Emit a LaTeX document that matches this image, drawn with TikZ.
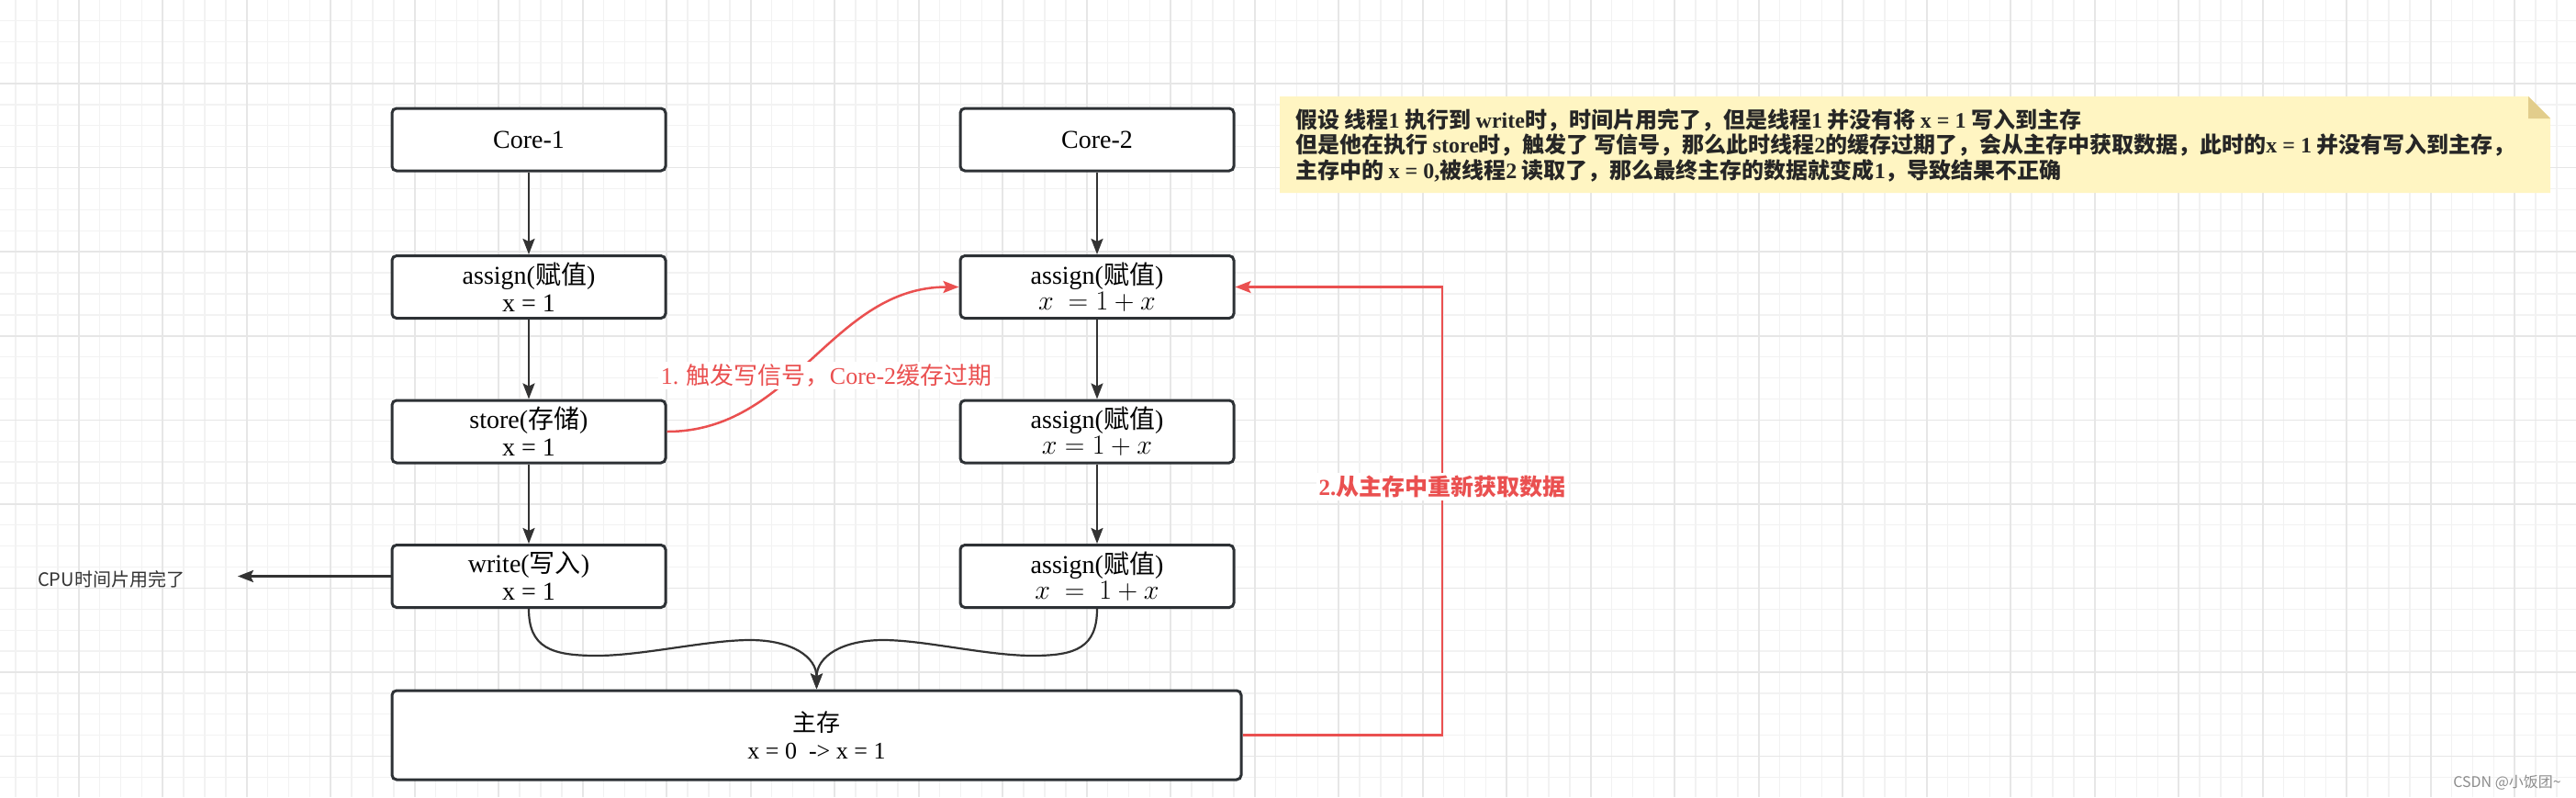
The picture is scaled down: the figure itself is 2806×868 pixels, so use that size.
\RequirePackage{fix-cm}
\documentclass[tikz,border=0pt]{standalone}
\usepackage{fontspec}
\setmainfont{Liberation Serif}
\usetikzlibrary{arrows.meta,calc}
\newfontfamily\cjk{Noto Sans CJK SC}
\newcommand\en[1]{{\rmfamily #1}}
\definecolor{boxline}{HTML}{2D3135}
\definecolor{arrline}{HTML}{333333}
\definecolor{redc}{HTML}{EA5050}
\definecolor{notefill}{HTML}{FFF5C2}
\definecolor{notefold}{HTML}{E2CD8C}
\definecolor{gridminor}{HTML}{F2F2F2}
\definecolor{gridmajor}{HTML}{E6E6E6}
\tikzset{
  box/.style={draw=boxline, line width=3pt, rounded corners=5pt, fill=white,
    minimum width=298pt, minimum height=68pt, align=center, inner sep=0pt,
    font=\fontsize{28}{30}\selectfont},
  arr/.style={draw=arrline, line width=2.2pt, -{Stealth[length=17pt,width=13pt,inset=3pt]}},
  redarr/.style={draw=redc, line width=2.5pt, -{Stealth[length=17pt,width=13pt,inset=3pt]}},
  redlabel/.style={fill=white, text=redc, inner sep=3pt, font=\fontsize{26}{30}\selectfont},
}
\begin{document}
\begin{tikzpicture}[x=1pt,y=-1pt]
\useasboundingbox (0,0) rectangle (2806,868);
\fill[white] (0,0) rectangle (2806,868);
\begin{scope}
\clip (0,0) rectangle (2806,868);
\foreach \i in {0,...,122}{\draw[gridminor, line width=1.3pt] ({17.1+\i*22.875},0) -- ({17.1+\i*22.875},868);}
\foreach \i in {0,...,38}{\draw[gridminor, line width=1.3pt] (0,{-0.5+\i*22.89}) -- (2806,{-0.5+\i*22.89});}
\foreach \i in {0,...,30}{\draw[gridmajor, line width=1.6pt] ({85.7+\i*91.5},0) -- ({85.7+\i*91.5},868);}
\foreach \i in {0,...,9}{\draw[gridmajor, line width=1.6pt] (0,{-0.5+\i*91.56}) -- (2806,{-0.5+\i*91.56});}
\end{scope}

% note
\fill[notefill] (1394,105) -- (2754,105) -- (2778,129) -- (2778,210) -- (1394,210) -- cycle;
\fill[notefold] (2754,105) -- (2754,129) -- (2778,129) -- cycle;
\node[anchor=north west, align=left, inner sep=0pt, text=black!85,
  font=\cjk\bfseries\fontsize{24}{27.5}\selectfont] (note) at (1411,118)
 {假设 线程\en{1} 执行到 \en{write}时，时间片用完了，但是线程\en{1} 并没有将 \en{x = 1} 写入到主存\\
  但是他在执行 \en{store}时，触发了 写信号，那么此时线程\en{2}的缓存过期了，会从主存中获取数据，此时的\en{x = 1} 并没有写入到主存，\\
  主存中的 \en{x = 0,}被线程\en{2} 读取了，那么最终主存的数据就变成\en{1}，导致结果不正确};

% boxes
\node[box] (c1) at (576,152) {Core-1};
\node[box] (a1) at (576,312.5) {assign({\cjk 赋值})\\x = 1};
\node[box] (s1) at (576,470) {store({\cjk 存储})\\x = 1};
\node[box] (w1) at (576,627.5) {write({\cjk 写入})\\x = 1};

\node[box] (c2) at (1195,152) {Core-2};
\node[box] (a2) at (1195,312.5) {assign({\cjk 赋值})\\[-2pt]\fontsize{30}{32}\selectfont $x\ =1+x$};
\node[box] (a3) at (1195,470) {assign({\cjk 赋值})\\[-2pt]\fontsize{30}{32}\selectfont $x=1+x$};
\node[box] (a4) at (1195,627.5) {assign({\cjk 赋值})\\[-2pt]\fontsize{30}{32}\selectfont $x\ =\ 1+x$};

\node[box, minimum width=925pt, minimum height=97pt, font=\fontsize{26}{30}\selectfont] (mem) at (889.5,800.5) {{\cjk 主存}\\x = 0\ \ -> x = 1};

% black arrows
\draw[arr] (c1) -- (a1);
\draw[arr] (a1) -- (s1);
\draw[arr] (s1) -- (w1);
\draw[arr] (c2) -- (a2);
\draw[arr] (a2) -- (a3);
\draw[arr] (a3) -- (a4);

\node[anchor=west, inner sep=0pt, text=black!80, font=\cjk\fontsize{20}{20}\selectfont] (cpu) at (41,631) {CPU时间片用完了};
\coordinate (cpuend) at (259,629);
\draw[arr] (w1.west) -- (w1.west -| cpuend);

\draw[arr] (w1.south) .. controls (576,705) and (600,714) .. (650,714)
  .. controls (700,714) and (770,697) .. (817,697)
  .. controls (862,697) and (889.5,715) .. (mem.north);
\draw[arr] (a4.south) .. controls (1195,705) and (1172,714) .. (1125,714)
  .. controls (1075,714) and (1007,697) .. (962,697)
  .. controls (917,697) and (889.5,715) .. (mem.north);

% red connectors
\draw[redarr] (s1.east) to[out=0,in=180] (a2.west);
\node[redlabel] (l1) at (900,409) {1. {\cjk 触发写信号，}Core-2{\cjk 缓存过期}};

\coordinate (turn) at (1571,500);
\draw[redarr] (mem.east) -- (mem.east -| turn) -- (a2.east -| turn) -- (a2.east);
\node[redlabel, font=\bfseries\fontsize{25}{30}\selectfont] (l2) at (1571,530) {2.{\cjk\bfseries 从主存中重新获取数据}};

\node[anchor=east, inner sep=0pt, text=black!45, font=\cjk\fontsize{16}{16}\selectfont] (wm) at (2790,852) {CSDN @小饭团\textasciitilde};
\end{tikzpicture}
\end{document}
